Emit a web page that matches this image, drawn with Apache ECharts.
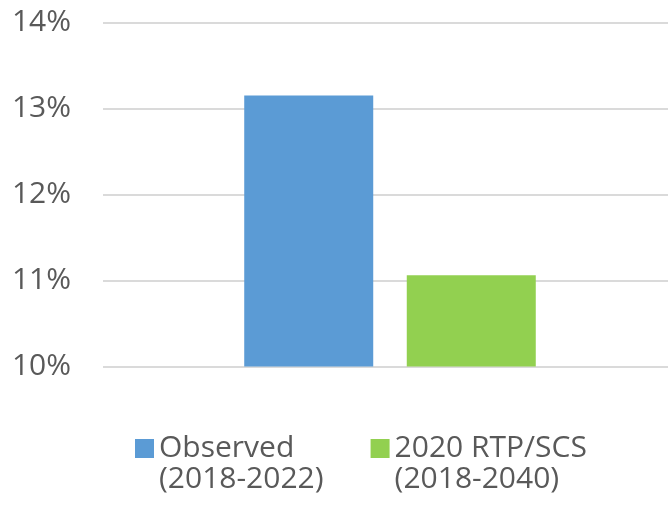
<!DOCTYPE html>
<html>
<head>
<meta charset="utf-8">
<script src="https://cdn.jsdelivr.net/npm/echarts@6/dist/echarts.min.js"></script>
<style>
html,body{margin:0;padding:0;background:#fff;}
#chart{width:668px;height:506px;}
</style>
</head>
<body>
<div id="chart"></div>
<script>
var categories = [''];
var seriesNames = ['Observed', '2020 RTP/SCS'];
var seriesPeriods = ['(2018-2022)', '(2018-2040)'];
var observedValues = [13.15];
var projectedValues = [11.06];
var yTicks = { min: 10, max: 14, interval: 1 };

var chart = echarts.init(document.getElementById('chart'), null, { renderer: 'canvas' });
var font = 'Open Sans';
chart.setOption({
  animation: false,
  backgroundColor: '#ffffff',
  grid: { left: 103, width: 574, top: 22.5, height: 344, containLabel: false, outerBoundsMode: 'none' },
  legend: {
    left: 135,
    top: 402,
    padding: 0,
    itemWidth: 19,
    itemHeight: 19,
    itemGap: 47,
    icon: 'rect',
    formatter: function (name) {
      var i = seriesNames.indexOf(name);
      return ' \n' + name + '\n' + seriesPeriods[i];
    },
    textStyle: {
      fontFamily: font,
      fontSize: 30,
      color: '#595959',
      lineHeight: 31
    },
    data: seriesNames
  },
  xAxis: {
    type: 'category',
    data: categories,
    axisLine: { show: false },
    axisTick: { show: false },
    axisLabel: { show: false }
  },
  yAxis: {
    type: 'value',
    min: yTicks.min,
    max: yTicks.max,
    interval: yTicks.interval,
    axisLine: { show: false },
    axisTick: { show: false },
    axisLabel: {
      formatter: '{value}%',
      fontFamily: font,
      fontSize: 30,
      color: '#595959',
      margin: 32
    },
    splitLine: { lineStyle: { color: '#dadada', width: 2 } }
  },
  series: [
    {
      name: seriesNames[0],
      type: 'bar',
      data: observedValues,
      barWidth: 129,
      barGap: '26%',
      itemStyle: { color: '#5B9BD5' }
    },
    {
      name: seriesNames[1],
      type: 'bar',
      data: projectedValues,
      barWidth: 129,
      itemStyle: { color: '#92D050' }
    }
  ]
});
</script>
</body>
</html>
